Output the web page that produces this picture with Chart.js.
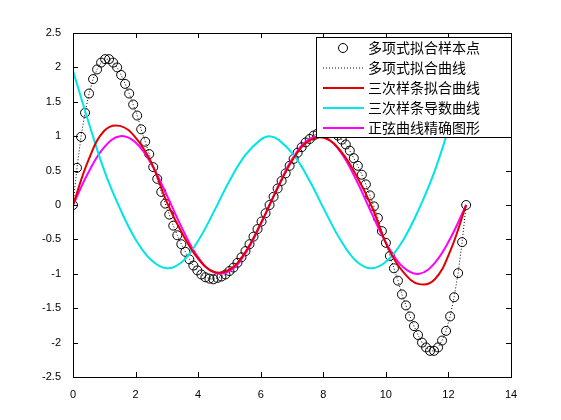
<!DOCTYPE html>
<html>
<head>
<meta charset="utf-8">
<script src="https://cdn.jsdelivr.net/npm/chart.js@4"></script>
<style>body{margin:0;background:#fff}canvas{display:block}</style>
</head>
<body>
<canvas id="c" width="561" height="420"></canvas>
<script>
// polynomial fit sample points, x step = 4*pi/98
const sampleY = [0, 0.54, 0.99, 1.34, 1.62, 1.83, 1.97, 2.07, 2.12, 2.12, 2.07, 2.0, 1.89, 1.76, 1.62, 1.46, 1.30, 1.10, 0.92, 0.74,
  0.55, 0.38, 0.19, 0.02, -0.14, -0.30, -0.44, -0.57, -0.68, -0.79, -0.88, -0.95, -1.01, -1.05, -1.07, -1.08, -1.06, -1.04, -1.01, -0.96,
  -0.91, -0.84, -0.76, -0.67, -0.57, -0.46, -0.35, -0.24, -0.12, 0,
  0.12, 0.24, 0.35, 0.46, 0.57, 0.67, 0.76, 0.84, 0.91, 0.96, 1.01, 1.04, 1.06, 1.08, 1.07, 1.05, 1.01, 0.95, 0.88, 0.79,
  0.68, 0.57, 0.44, 0.30, 0.14, -0.02, -0.19, -0.38, -0.55, -0.74, -0.92, -1.10, -1.30, -1.46, -1.62, -1.76, -1.89, -2.0, -2.07, -2.12,
  -2.12, -2.07, -1.97, -1.83, -1.62, -1.34, -0.99, -0.54, 0];
const sampleStep = 4 * Math.PI / 98;

const curveX = [0, 0.5, 1, 1.5, 2, 2.5, 3, 3.5, 4, 4.5, 5, 5.5, 6, 6.283,
  6.566, 7.066, 7.566, 8.066, 8.566, 9.066, 9.566, 10.066, 10.566, 11.066, 11.566, 12.066, 12.566];
const splineY = [0, 0.66, 1.08, 1.15, 0.98, 0.62, 0.04, -0.42, -0.78, -0.97, -0.94, -0.69, -0.27, 0,
  0.27, 0.69, 0.94, 0.97, 0.78, 0.42, -0.04, -0.62, -0.98, -1.15, -1.08, -0.66, 0];
const derivY = [1.95, 1.2, 0.5, -0.05, -0.5, -0.8, -0.92, -0.82, -0.52, -0.1, 0.35, 0.72, 0.95, 1.0,
  0.95, 0.72, 0.35, -0.1, -0.52, -0.82, -0.92, -0.8, -0.5, -0.05, 0.5, 1.2, 1.95];
const sineY = [0, 0.48, 0.84, 1.0, 0.91, 0.6, 0.14, -0.35, -0.76, -0.98, -0.96, -0.71, -0.28, 0,
  0.28, 0.71, 0.96, 0.98, 0.76, 0.35, -0.14, -0.6, -0.91, -1.0, -0.84, -0.48, 0];

const xTicks = [0, 2, 4, 6, 8, 10, 12, 14];
const yTicks = [-2.5, -2, -1.5, -1, -0.5, 0, 0.5, 1, 1.5, 2, 2.5];
const names = ['多项式拟合样本点', '多项式拟合曲线', '三次样条拟合曲线', '三次样条导数曲线', '正弦曲线精确图形'];

const pts = ys => ys.map((y, i) => ({x: i * sampleStep, y: y}));
const line = ys => ys.map((y, i) => ({x: curveX[i], y: y}));
const FONT = '"Noto Sans CJK SC", sans-serif';

const frame = {
  id: 'frame',
  afterDraw(chart) {
    const ctx = chart.ctx, a = chart.chartArea, sx = chart.scales.x, sy = chart.scales.y;
    ctx.save();
    ctx.strokeStyle = '#000'; ctx.lineWidth = 1;
    ctx.strokeRect(a.left + 0.5, a.top + 0.5, a.right - a.left, a.bottom - a.top);
    ctx.beginPath();
    xTicks.forEach(v => {
      const p = Math.round(sx.getPixelForValue(v)) + 0.5;
      ctx.moveTo(p, a.bottom); ctx.lineTo(p, a.bottom - 5);
      ctx.moveTo(p, a.top); ctx.lineTo(p, a.top + 5);
    });
    yTicks.forEach(v => {
      const p = Math.round(sy.getPixelForValue(v)) + 0.5;
      ctx.moveTo(a.left, p); ctx.lineTo(a.left + 5, p);
      ctx.moveTo(a.right, p); ctx.lineTo(a.right - 5, p);
    });
    ctx.stroke();
    // legend
    const lx = 316, ly = 37, lw = 195, lh = 100;
    ctx.fillStyle = '#fff';
    ctx.fillRect(lx, ly, lw, lh);
    ctx.strokeRect(lx + 0.5, ly + 0.5, lw, lh);
    ctx.font = '14px ' + FONT;
    ctx.textBaseline = 'middle';
    const cols = [null, '#000', '#e00000', '#00e5e5', '#ff00ff'];
    names.forEach((n, i) => {
      const y = ly + 11 + i * 20;
      if (i === 0) {
        ctx.beginPath(); ctx.arc(343, y, 4.5, 0, 2 * Math.PI); ctx.strokeStyle = '#000'; ctx.lineWidth = 1; ctx.stroke();
      } else {
        ctx.beginPath(); ctx.moveTo(323, y); ctx.lineTo(364, y);
        ctx.strokeStyle = cols[i];
        ctx.lineWidth = i === 1 ? 1 : 2;
        ctx.setLineDash(i === 1 ? [1, 2] : []);
        ctx.stroke(); ctx.setLineDash([]);
      }
      ctx.fillStyle = '#000';
      ctx.fillText(n, 368, y);
    });
    ctx.restore();
  }
};

new Chart(document.getElementById('c'), {
  type: 'scatter',
  data: {
    datasets: [
      {label: names[2], data: line(splineY), showLine: true, borderColor: '#e00000', borderWidth: 2, pointRadius: 0, tension: 0.4},
      {label: names[3], data: line(derivY), showLine: true, borderColor: '#00e5e5', borderWidth: 2, pointRadius: 0, tension: 0.4},
      {label: names[4], data: line(sineY), showLine: true, borderColor: '#ff00ff', borderWidth: 2, pointRadius: 0, tension: 0.4},
      {label: names[0], data: pts(sampleY), showLine: true, borderColor: '#000', borderWidth: 1, borderDash: [1, 2],
       pointRadius: 4.5, pointBorderColor: '#000', pointBackgroundColor: 'rgba(0,0,0,0)', pointBorderWidth: 1}
    ]
  },
  options: {
    responsive: false, animation: false,
    layout: {padding: {top: 33, right: 50, left: 0, bottom: 0}},
    plugins: {legend: {display: false}, tooltip: {enabled: false}},
    scales: {
      x: {
        type: 'linear', min: 0, max: 14,
        afterFit: s => { s.height = 43; },
        afterBuildTicks: s => { s.ticks = xTicks.map(v => ({value: v})); },
        grid: {display: false}, border: {display: false},
        ticks: {color: '#000', font: {size: 11, family: 'Liberation Sans'}, padding: 3, maxRotation: 0,
                callback: v => String(v)}
      },
      y: {
        min: -2.5, max: 2.5,
        afterFit: s => { s.width = 73; },
        afterBuildTicks: s => { s.ticks = yTicks.map(v => ({value: v})); },
        grid: {display: false}, border: {display: false},
        ticks: {color: '#000', font: {size: 11, family: 'Liberation Sans'}, padding: 4,
                callback: v => String(v)}
      }
    }
  },
  plugins: [frame]
});
</script>
</body>
</html>
